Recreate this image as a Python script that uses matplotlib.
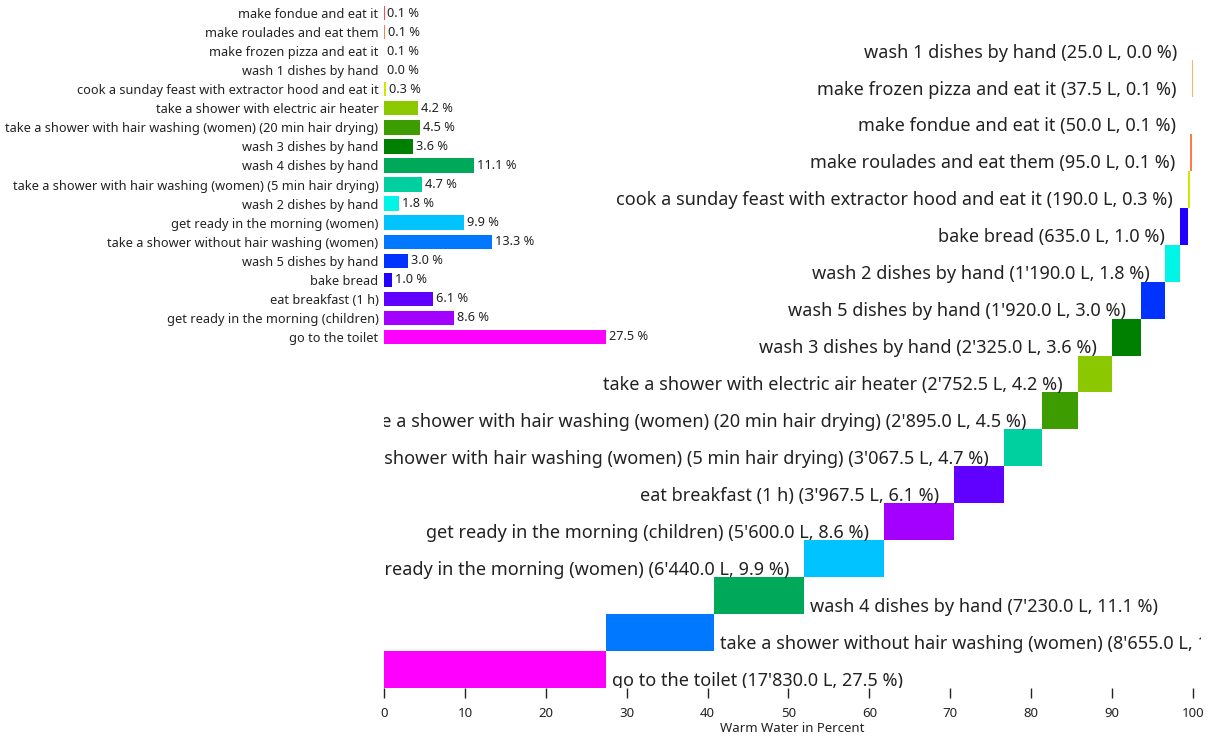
import matplotlib
matplotlib.use("Agg")
import matplotlib.pyplot as plt

plt.rcParams['font.family'] = ['Noto Sans', 'DejaVu Sans']

# activities in the order of the small bar chart (top to bottom)
activities = [
    "make fondue and eat it",
    "make roulades and eat them",
    "make frozen pizza and eat it",
    "wash 1 dishes by hand",
    "cook a sunday feast with extractor hood and eat it",
    "take a shower with electric air heater",
    "take a shower with hair washing (women) (20 min hair drying)",
    "wash 3 dishes by hand",
    "wash 4 dishes by hand",
    "take a shower with hair washing (women) (5 min hair drying)",
    "wash 2 dishes by hand",
    "get ready in the morning (women)",
    "take a shower without hair washing (women)",
    "wash 5 dishes by hand",
    "bake bread",
    "eat breakfast (1 h)",
    "get ready in the morning (children)",
    "go to the toilet",
]
liters = [50.0, 95.0, 37.5, 25.0, 190.0, 2752.5, 2895.0, 2325.0, 7230.0,
          3067.5, 1190.0, 6440.0, 8655.0, 1920.0, 635.0, 3967.5, 5600.0, 17830.0]
colors = ["#ff4a4a", "#ff7a45", "#ffb35c", "#f5e000", "#d2e400", "#8cc800",
          "#3c9c00", "#008000", "#00a85a", "#00d0a0", "#00f5e6", "#00c3ff",
          "#0078ff", "#0033ff", "#2200ff", "#6000ff", "#a300ff", "#ff00ff"]

total = sum(liters)
percent = [l / total * 100 for l in liters]

fig = plt.figure(figsize=(12.14, 7.4), dpi=100)

# waterfall (main axes)
ax = fig.add_axes([384 / 1214, 1 - 688 / 740, (1201 - 384) / 1214, (688 - 23) / 740])
order = sorted(range(len(liters)), key=lambda i: -liters[i])
start = 0.0
for row, i in enumerate(order):
    ax.barh(row, percent[i], left=start, height=1.0, color=colors[i], linewidth=0)
    num = f"{liters[i]:,.1f}".replace(",", "'")
    label = f"{activities[i]} ({num} L, {percent[i]:.1f} %)"
    if start < 50:
        ax.annotate(label, (start + percent[i], row - 0.3), xytext=(4, 0),
                    textcoords="offset points", ha="left", va="center",
                    fontsize=13, color="#222222", annotation_clip=False, clip_on=True)
    else:
        ax.annotate(label, (start, row - 0.3), xytext=(-11, 0),
                    textcoords="offset points", ha="right", va="center",
                    fontsize=13, color="#222222", annotation_clip=False, clip_on=True)
    start += percent[i]

ax.set_xlim(0, 101)
ax.set_ylim(-0.5, len(liters) - 0.5)
ax.set_xticks(range(0, 101, 10))
ax.set_yticks([])
for s in ax.spines.values():
    s.set_visible(False)
ax.tick_params(axis="x", length=7, width=1, pad=7, labelsize=9.5, colors="#222222")
ax.set_xlabel("Warm Water in Percent", fontsize=9.5, color="#222222", labelpad=1)

# small bar chart on top, same x scale
ax2 = fig.add_axes([384 / 1214, 1 - 346.5 / 740, (1201 - 384) / 1214, 343 / 740],
                   sharex=ax)
ax2.patch.set_visible(False)
ypos = list(range(len(activities)))
ax2.barh(ypos, percent, height=0.75, color=colors, linewidth=0)
for y, p in zip(ypos, percent):
    ax2.annotate(f"{p:.1f} %", (p, y), xytext=(2, 0), textcoords="offset points",
                 ha="left", va="center", fontsize=9.2, color="#222222")
ax2.set_ylim(len(activities) - 0.5, -0.5)
ax2.set_yticks(ypos)
ax2.set_yticklabels(activities, fontsize=9.2, color="#222222")
ax2.tick_params(axis="y", length=0, pad=4)
ax2.tick_params(axis="x", bottom=False, labelbottom=False)
for s in ax2.spines.values():
    s.set_visible(False)

fig.savefig("out.png", dpi=100)
